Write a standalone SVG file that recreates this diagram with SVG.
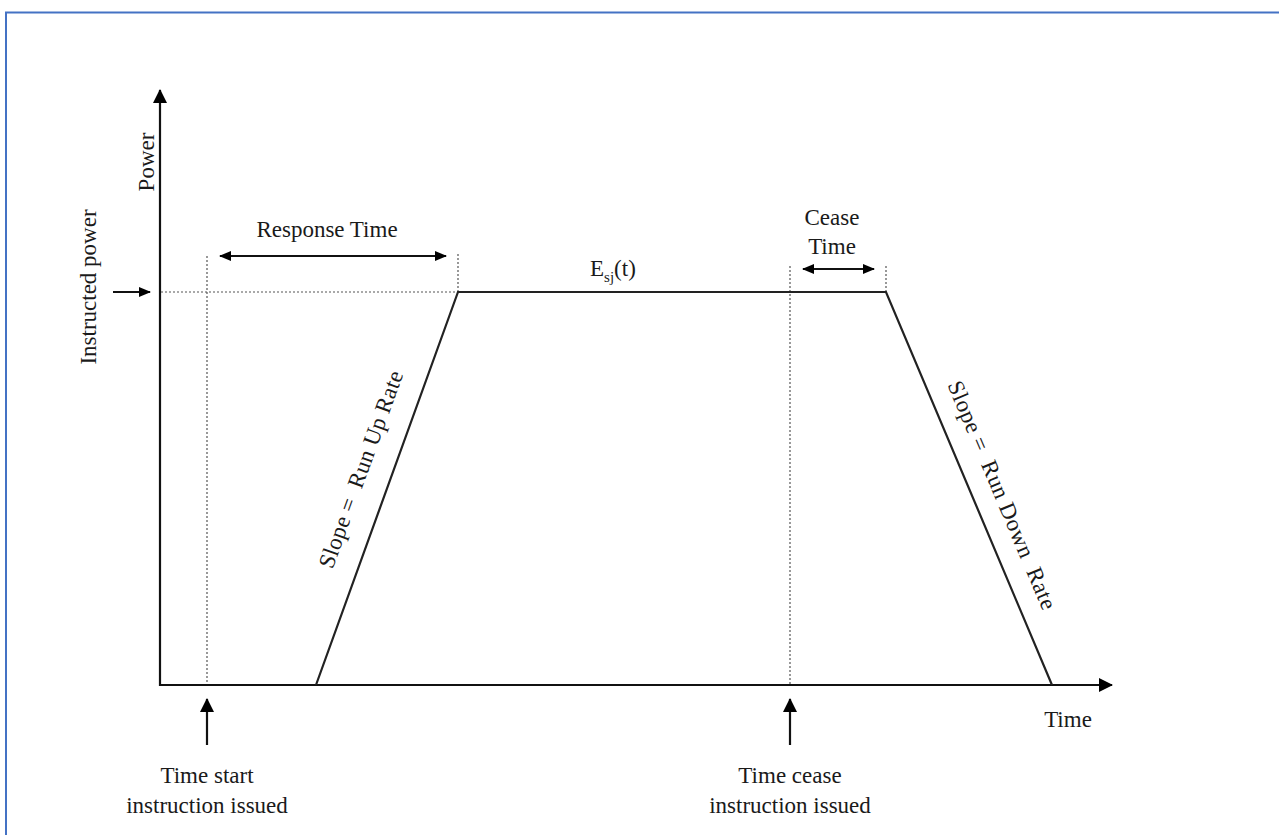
<svg xmlns="http://www.w3.org/2000/svg" width="1279" height="835" viewBox="0 0 1279 835">
  <style>
    .lbl { font-family: "Liberation Serif", "Times New Roman", serif; font-size: 23px; fill: #1a1a1a; }
    .axis { stroke: #111; stroke-width: 2.2; fill: none; }
    .curve { stroke: #222; stroke-width: 2.2; fill: none; }
    .guide { stroke: #555; stroke-width: 1.2; stroke-dasharray: 2 2; fill: none; }
    .arrow { stroke: #111; stroke-width: 2.2; fill: none; }
  </style>
  <defs>
    <marker id="head" viewBox="0 0 12 10" refX="11" refY="5" markerWidth="12" markerHeight="10" markerUnits="userSpaceOnUse" orient="auto-start-reverse">
      <path d="M0,0 L12,5 L0,10 z" fill="#000"/>
    </marker>
    <marker id="headBig" viewBox="0 0 14 14" refX="13" refY="7" markerWidth="14" markerHeight="14" markerUnits="userSpaceOnUse" orient="auto-start-reverse">
      <path d="M0,0 L14,7 L0,14 z" fill="#000"/>
    </marker>
  </defs>

  <rect width="1279" height="835" fill="#fff"/>

  <!-- page frame -->
  <g id="frame">
    <path d="M6,835 V12.5 H1279" fill="none" stroke="#4472c4" stroke-width="2"/>
  </g>

  <!-- axes -->
  <g id="axes">
    <line class="axis" x1="160" y1="686" x2="160" y2="90" marker-end="url(#headBig)"/>
    <line class="axis" x1="159" y1="685" x2="1112" y2="685" marker-end="url(#headBig)"/>
    <text class="lbl" transform="translate(154,162) rotate(-90)" text-anchor="middle">Power</text>
    <text class="lbl" x="1068" y="727" text-anchor="middle">Time</text>
  </g>

  <!-- guide lines -->
  <g id="guides">
    <line class="guide" x1="161" y1="292" x2="458" y2="292"/>
    <line class="guide" x1="207" y1="256" x2="207" y2="684"/>
    <line class="guide" x1="458" y1="254" x2="458" y2="291"/>
    <line class="guide" x1="790" y1="266" x2="790" y2="684"/>
    <line class="guide" x1="886" y1="266" x2="886" y2="291"/>
  </g>

  <!-- power profile -->
  <g id="profile">
    <polyline class="curve" points="316,685 458,292 886,292 1052,685"/>
    <text class="lbl" x="590" y="276">E<tspan font-size="15" dy="6">sj</tspan><tspan dy="-6">(t)</tspan></text>
  </g>

  <!-- instructed power marker -->
  <g id="instructed">
    <line class="arrow" x1="113" y1="292" x2="150" y2="292" marker-end="url(#head)"/>
    <text class="lbl" transform="translate(96,287) rotate(-90)" text-anchor="middle">Instructed power</text>
  </g>

  <!-- response time -->
  <g id="response-time">
    <line class="arrow" x1="220" y1="256" x2="446" y2="256" marker-start="url(#head)" marker-end="url(#head)"/>
    <text class="lbl" x="327" y="237" text-anchor="middle">Response Time</text>
  </g>

  <!-- cease time -->
  <g id="cease-time">
    <line class="arrow" x1="803" y1="269" x2="874" y2="269" marker-start="url(#head)" marker-end="url(#head)"/>
    <text class="lbl" x="832" y="225" text-anchor="middle">Cease</text>
    <text class="lbl" x="832" y="254" text-anchor="middle">Time</text>
  </g>

  <!-- slope labels -->
  <g id="run-up">
    <text class="lbl" transform="translate(368,472) rotate(-70.1)" text-anchor="middle" textLength="208" xml:space="preserve">Slope =  Run Up Rate</text>
  </g>
  <g id="run-down">
    <text class="lbl" transform="translate(995,498) rotate(67.1)" text-anchor="middle" textLength="246" xml:space="preserve">Slope =  Run Down  Rate</text>
  </g>

  <!-- instruction markers -->
  <g id="start-instruction">
    <line class="arrow" x1="207" y1="745" x2="207" y2="699" marker-end="url(#headBig)"/>
    <text class="lbl" x="207" y="783" text-anchor="middle">Time start</text>
    <text class="lbl" x="207" y="813" text-anchor="middle">instruction issued</text>
  </g>
  <g id="cease-instruction">
    <line class="arrow" x1="790" y1="745" x2="790" y2="699" marker-end="url(#headBig)"/>
    <text class="lbl" x="790" y="783" text-anchor="middle">Time cease</text>
    <text class="lbl" x="790" y="813" text-anchor="middle">instruction issued</text>
  </g>
</svg>
